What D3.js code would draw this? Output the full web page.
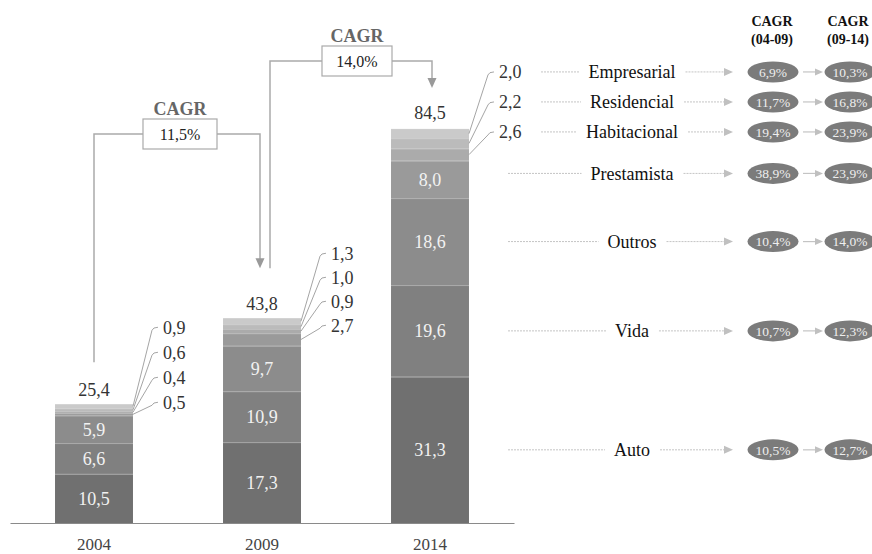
<!DOCTYPE html>
<html>
<head>
<meta charset="utf-8">
<script src="https://cdn.jsdelivr.net/npm/d3@7"></script>
<style>
  html, body { margin: 0; padding: 0; background: #fff; }
  svg { display: block; font-family: "Liberation Serif", "Times New Roman", serif; }
</style>
</head>
<body>
<svg id="chart" width="872" height="554"></svg>
<script>
// Premium volume by line of business (stacked), plus growth rates per line
const years = ["2004", "2009", "2014"];
const segments = ["Auto", "Vida", "Outros", "Prestamista", "Habitacional", "Residencial", "Empresarial"];
const auto = [10.5, 17.3, 31.3];
const vida = [6.6, 10.9, 19.6];
const outros = [5.9, 9.7, 18.6];
const prestamista = [0.5, 2.7, 8.0];
const habitacional = [0.4, 0.9, 2.6];
const residencial = [0.6, 1.0, 2.2];
const empresarial = [0.9, 1.3, 2.0];
const totals = [25.4, 43.8, 84.5];
const cagrTotal = ["11,5%", "14,0%"];
// growth per line, same order as `segments`
const cagr0409 = ["10,5%", "10,7%", "10,4%", "38,9%", "19,4%", "11,7%", "6,9%"];
const cagr0914 = ["12,7%", "12,3%", "14,0%", "23,9%", "23,9%", "16,8%", "10,3%"];
const cagrHeaders = [["CAGR", "(04-09)"], ["CAGR", "(09-14)"]];

const seriesValues = [auto, vida, outros, prestamista, habitacional, residencial, empresarial];
const colors = ["#707070", "#808080", "#8c8c8c", "#9a9a9a", "#ababab", "#bbbbbb", "#cacaca"];

const rows = years.map((y, i) => {
  const r = { year: y };
  segments.forEach((s, k) => { r[s] = seriesValues[k][i]; });
  return r;
});

const fmt = v => d3.format(".1f")(v).replace(".", ",");

const svg = d3.select("#chart");
const baseY = 523;
const FS = 18;

const x = d3.scaleBand().domain(years).range([10, 514]).paddingInner(0.536).paddingOuter(0.268);
const y = d3.scaleLinear().domain([0, 84.5]).range([baseY, 128]);
const color = d3.scaleOrdinal().domain(segments).range(colors);

const stacked = d3.stack().keys(segments)(rows);

// bars
const layer = svg.append("g");
stacked.forEach(series => {
  const g = layer.append("g");
  g.selectAll("rect").data(series).join("rect")
    .attr("x", d => x(d.data.year))
    .attr("width", x.bandwidth())
    .attr("y", d => y(d[1]))
    .attr("height", d => y(d[0]) - y(d[1]))
    .attr("fill", color(series.key));
  // thin light separator at the top of each segment
  g.selectAll("line").data(series).join("line")
    .attr("x1", d => x(d.data.year)).attr("x2", d => x(d.data.year) + x.bandwidth())
    .attr("y1", d => y(d[1]) + 0.5).attr("y2", d => y(d[1]) + 0.5)
    .attr("stroke", "#d0d0d0").attr("stroke-opacity", 0.55).attr("stroke-width", 1);
});

// values inside the larger segments
const insideMin = 4;
stacked.forEach(series => {
  svg.append("g").selectAll("text")
    .data(series.filter(d => d[1] - d[0] >= insideMin))
    .join("text")
    .attr("x", d => x(d.data.year) + x.bandwidth() / 2)
    .attr("y", d => (y(d[0]) + y(d[1])) / 2)
    .attr("dy", "0.35em")
    .attr("text-anchor", "middle")
    .attr("fill", "#f2f2f2")
    .attr("font-size", FS)
    .text(d => fmt(d[1] - d[0]));
});

// totals
svg.append("g").selectAll("text").data(years).join("text")
  .attr("x", d => x(d) + x.bandwidth() / 2)
  .attr("y", (d, i) => y(totals[i]) - 15)
  .attr("dy", "0.35em")
  .attr("text-anchor", "middle")
  .attr("fill", "#333")
  .attr("font-size", FS)
  .text((d, i) => fmt(totals[i]));

// baseline axis with year labels
const axis = svg.append("g").attr("transform", `translate(0,${baseY})`)
  .call(d3.axisBottom(x).tickSize(0).tickPadding(15));
axis.select(".domain").attr("stroke", "#8a8a8a").attr("stroke-width", 1.2);
axis.selectAll("text").attr("font-size", 17).attr("fill", "#444")
  .attr("font-family", "Liberation Serif, Times New Roman, serif");

// callouts for the thin segments: label rows relative to bar top
const calloutLayout = { "2004": { start: -77, step: 25 }, "2009": { start: -65, step: 24 }, "2014": { start: -57, step: 30 } };
const calloutRows = {};
years.forEach((yr, i) => {
  const top = y(d3.sum(seriesValues, s => s[i]));
  const small = stacked.slice().reverse()
    .map(series => ({ key: series.key, d: series[i] }))
    .filter(o => o.d[1] - o.d[0] < insideMin);
  const lay = calloutLayout[yr];
  const right = x(yr) + x.bandwidth();
  calloutRows[yr] = {};
  small.forEach((o, j) => {
    const ly = top + lay.start + lay.step * j;
    calloutRows[yr][o.key] = ly;
    const sy = (y(o.d[0]) + y(o.d[1])) / 2;
    const cx = right + 19;
    svg.append("path")
      .attr("d", `M${right},${sy} L${cx},${ly + 3} Q${cx + 1},${ly} ${cx + 6},${ly}`)
      .attr("fill", "none").attr("stroke", "#9a9a9a").attr("stroke-width", 0.9);
    svg.append("text")
      .attr("x", right + 30).attr("y", ly).attr("dy", "0.35em")
      .attr("font-size", FS).attr("fill", "#333")
      .text(fmt(o.d[1] - o.d[0]));
  });
});

// arrow marker helpers
function arrowDown(xp, yTip, w, h, fill) {
  svg.append("path").attr("d", `M${xp - w / 2},${yTip - h} L${xp + w / 2},${yTip - h} L${xp},${yTip} Z`).attr("fill", fill);
}
function arrowRight(xTip, yp, w, h, fill) {
  svg.append("path").attr("d", `M${xTip - w},${yp - h / 2} L${xTip - w},${yp + h / 2} L${xTip},${yp} Z`).attr("fill", fill);
}

// CAGR brackets between consecutive years
const brackets = [
  { from: 0, to: 1, startDx: 0, endDx: -2, hY: 134, boxCx: 180, boxW: 74, tipGap: 50, startGap: 42 },
  { from: 1, to: 2, startDx: 8, endDx: 2, hY: 61, boxCx: 357, boxW: 70, tipGap: 40, startGap: 50 }
];
brackets.forEach((b, i) => {
  const x0 = x(years[b.from]) + x.bandwidth() / 2 + b.startDx;
  const x1 = x(years[b.to]) + x.bandwidth() / 2 + b.endDx;
  const y0 = y(totals[b.from]) - b.startGap;
  const yTip = y(totals[b.to]) - b.tipGap;
  const boxH = 30;
  svg.append("path")
    .attr("d", `M${x0},${y0} V${b.hY} H${b.boxCx - b.boxW / 2} M${b.boxCx + b.boxW / 2},${b.hY} H${x1} V${yTip - 8}`)
    .attr("fill", "none").attr("stroke", "#aaaaaa").attr("stroke-width", 1.5);
  arrowDown(x1, yTip, 9, 10, "#9a9a9a");
  svg.append("rect")
    .attr("x", b.boxCx - b.boxW / 2).attr("y", b.hY - boxH / 2)
    .attr("width", b.boxW).attr("height", boxH)
    .attr("fill", "#fff").attr("stroke", "#aaaaaa").attr("stroke-width", 1.2);
  svg.append("text").attr("x", b.boxCx).attr("y", b.hY).attr("dy", "0.35em")
    .attr("text-anchor", "middle").attr("font-size", 16).attr("fill", "#222")
    .text(cagrTotal[i]);
  svg.append("text").attr("x", b.boxCx).attr("y", b.hY - boxH / 2 - 10).attr("dy", "0.35em")
    .attr("text-anchor", "middle").attr("font-size", 18).attr("font-weight", "bold").attr("fill", "#666")
    .text("CAGR");
});

// legend rows aligned with the last bar
const lastYear = years[years.length - 1];
const lastIdx = years.length - 1;
const e1x = 773, e2x = 850, nameX = 632, arrowTipX = 733;
const legend = svg.append("g");

cagrHeaders.forEach((h, i) => {
  const cx = i === 0 ? e1x - 1 : e2x - 2;
  h.forEach((t, j) => {
    legend.append("text").attr("x", cx).attr("y", 21 + j * 18).attr("dy", "0.35em")
      .attr("text-anchor", "middle").attr("font-size", 14).attr("font-weight", "bold").attr("fill", "#111")
      .text(t);
  });
});

segments.forEach((s, k) => {
  const d = stacked[k][lastIdx];
  let ry;
  if (calloutRows[lastYear][s] !== undefined) ry = calloutRows[lastYear][s];
  else if (s === "Prestamista") ry = (y(d[0]) + y(d[1])) / 2 - 6;
  else ry = (y(d[0]) + y(d[1])) / 2;
  const name = legend.append("text").attr("x", nameX).attr("y", ry).attr("dy", "0.35em")
    .attr("text-anchor", "middle").attr("font-size", FS).attr("fill", "#111").text(s);
  const bb = name.node().getBBox();
  const leftStart = calloutRows[lastYear][s] !== undefined ? 541 : 508;
  legend.append("line").attr("x1", leftStart).attr("x2", bb.x - 9).attr("y1", ry).attr("y2", ry)
    .attr("stroke", "#c4c4c4").attr("stroke-width", 1).attr("stroke-dasharray", "2,1");
  legend.append("line").attr("x1", bb.x + bb.width + 10).attr("x2", arrowTipX - 8).attr("y1", ry).attr("y2", ry)
    .attr("stroke", "#c4c4c4").attr("stroke-width", 1).attr("stroke-dasharray", "2,1");
  arrowRight(arrowTipX, ry, 9, 8, "#c0c0c0");

  [[e1x, cagr0409[k]], [e2x, cagr0914[k]]].forEach(([cx, t]) => {
    legend.append("ellipse").attr("cx", cx).attr("cy", ry).attr("rx", 25.5).attr("ry", 10.5).attr("fill", "#7b7b7b");
    legend.append("text").attr("x", cx).attr("y", ry).attr("dy", "0.35em").attr("text-anchor", "middle")
      .attr("font-size", 13.5).attr("fill", "#eeeeee").text(t);
  });
  legend.append("line").attr("x1", e1x + 30).attr("x2", e2x - 33).attr("y1", ry).attr("y2", ry)
    .attr("stroke", "#c4c4c4").attr("stroke-width", 1.2);
  arrowRight(e2x - 27, ry, 8, 7, "#c0c0c0");
});
</script>
</body>
</html>
